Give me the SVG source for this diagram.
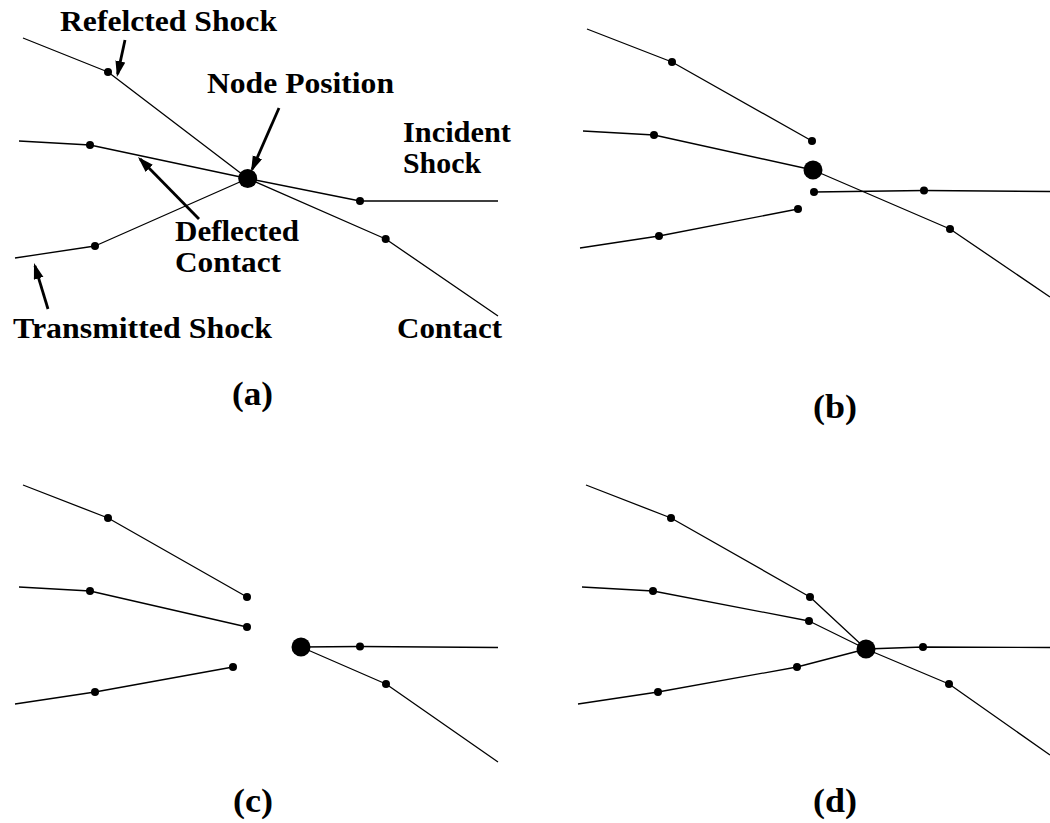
<svg xmlns="http://www.w3.org/2000/svg" width="1050" height="823" viewBox="0 0 1050 823">
<style>
.ln{fill:none;stroke:#000;stroke-width:1.3;stroke-linejoin:round}
.ar{fill:none;stroke:#000;stroke-width:2.8}
.dot{fill:#000}
.lbl{font-family:"Liberation Serif","Times New Roman",serif;font-weight:bold;font-size:29.5px;fill:#000}
.cap{font-family:"Liberation Serif","Times New Roman",serif;font-weight:bold;font-size:34px;fill:#000}
</style>
<defs>
<marker id="ah" markerUnits="userSpaceOnUse" markerWidth="18" markerHeight="12" refX="13" refY="5" orient="auto">
<path d="M0,0 L16,5 L0,10 z" fill="#000"/>
</marker>
</defs>
<g id="connectors">
<!-- panel a -->
<polyline class="ln" points="23,38 108,72 247.7,178.5"/>
<polyline class="ln" points="19,141 90,145 247.7,178.5"/>
<polyline class="ln" points="15,258 95,246 247.7,178.5"/>
<polyline class="ln" points="247.7,178.5 360,201 498,201"/>
<polyline class="ln" points="247.7,178.5 385.7,239 498,316"/>
<!-- panel b -->
<polyline class="ln" points="587,29 672,62 812,141"/>
<polyline class="ln" points="583,131 654,135 813,170"/>
<polyline class="ln" points="580,248 659,236 798,209"/>
<polyline class="ln" points="814,192 924,190.5 1050,191.5"/>
<polyline class="ln" points="813,170 950,229 1050,297"/>
<!-- panel c -->
<polyline class="ln" points="23,485 108,518 247,597"/>
<polyline class="ln" points="19,587 90,591 247,627"/>
<polyline class="ln" points="15,704 95,692 233,667"/>
<polyline class="ln" points="301,647 360,646.5 498,647.5"/>
<polyline class="ln" points="301,647 386,684 498,762"/>
<!-- panel d -->
<polyline class="ln" points="586,485 671,518 810,597 866,649"/>
<polyline class="ln" points="582,587 653,591 809,621 866,649"/>
<polyline class="ln" points="578,704 658,692 797,667 866,649"/>
<polyline class="ln" points="866,649 923,647 1050,647.5"/>
<polyline class="ln" points="866,649 949,684 1050,755"/>
<!-- label arrows -->
<line class="ar" x1="125" y1="40" x2="117.6" y2="74.1" marker-end="url(#ah)"/>
<line class="ar" x1="279" y1="108" x2="252.2" y2="169.2" marker-end="url(#ah)"/>
<line class="ar" x1="199" y1="219" x2="140.1" y2="159.1" marker-end="url(#ah)"/>
<line class="ar" x1="48" y1="309" x2="34.9" y2="265.9" marker-end="url(#ah)"/>
</g>
<g id="panel-a">
<circle class="dot" cx="247.7" cy="178.5" r="9.5"/>
<circle class="dot" cx="108" cy="72" r="4"/>
<circle class="dot" cx="90" cy="145" r="4"/>
<circle class="dot" cx="95" cy="246" r="4"/>
<circle class="dot" cx="360" cy="201" r="4"/>
<circle class="dot" cx="385.7" cy="239" r="4"/>
<text class="lbl" x="60" y="30.5" textLength="217" lengthAdjust="spacingAndGlyphs">Refelcted Shock</text>
<text class="lbl" x="207" y="93" textLength="187" lengthAdjust="spacingAndGlyphs">Node Position</text>
<text class="lbl" x="403" y="142" textLength="108" lengthAdjust="spacingAndGlyphs">Incident</text>
<text class="lbl" x="403" y="173" textLength="78" lengthAdjust="spacingAndGlyphs">Shock</text>
<text class="lbl" x="175" y="241" textLength="124" lengthAdjust="spacingAndGlyphs">Deflected</text>
<text class="lbl" x="175" y="272" textLength="106" lengthAdjust="spacingAndGlyphs">Contact</text>
<text class="lbl" x="13" y="338" textLength="259" lengthAdjust="spacingAndGlyphs">Transmitted Shock</text>
<text class="lbl" x="397" y="338" textLength="105" lengthAdjust="spacingAndGlyphs">Contact</text>
<text class="cap" x="232" y="405" textLength="41" lengthAdjust="spacingAndGlyphs">(a)</text>
</g>
<g id="panel-b">
<circle class="dot" cx="813" cy="170" r="9.5"/>
<circle class="dot" cx="672" cy="62" r="4"/>
<circle class="dot" cx="812" cy="141" r="4"/>
<circle class="dot" cx="654" cy="135" r="4"/>
<circle class="dot" cx="659" cy="236" r="4"/>
<circle class="dot" cx="798" cy="209" r="4"/>
<circle class="dot" cx="814" cy="192" r="4"/>
<circle class="dot" cx="924" cy="190.5" r="4"/>
<circle class="dot" cx="950" cy="229" r="4"/>
<text class="cap" x="813" y="418" textLength="44" lengthAdjust="spacingAndGlyphs">(b)</text>
</g>
<g id="panel-c">
<circle class="dot" cx="301" cy="647" r="9.5"/>
<circle class="dot" cx="108" cy="518" r="4"/>
<circle class="dot" cx="247" cy="597" r="4"/>
<circle class="dot" cx="90" cy="591" r="4"/>
<circle class="dot" cx="247" cy="627" r="4"/>
<circle class="dot" cx="95" cy="692" r="4"/>
<circle class="dot" cx="233" cy="667" r="4"/>
<circle class="dot" cx="360" cy="646.5" r="4"/>
<circle class="dot" cx="386" cy="684" r="4"/>
<text class="cap" x="233" y="812" textLength="40" lengthAdjust="spacingAndGlyphs">(c)</text>
</g>
<g id="panel-d">
<circle class="dot" cx="866" cy="649" r="9.5"/>
<circle class="dot" cx="671" cy="518" r="4"/>
<circle class="dot" cx="810" cy="597" r="4"/>
<circle class="dot" cx="653" cy="591" r="4"/>
<circle class="dot" cx="809" cy="621" r="4"/>
<circle class="dot" cx="658" cy="692" r="4"/>
<circle class="dot" cx="797" cy="667" r="4"/>
<circle class="dot" cx="923" cy="647" r="4"/>
<circle class="dot" cx="949" cy="684" r="4"/>
<text class="cap" x="813" y="812" textLength="44" lengthAdjust="spacingAndGlyphs">(d)</text>
</g>
</svg>
